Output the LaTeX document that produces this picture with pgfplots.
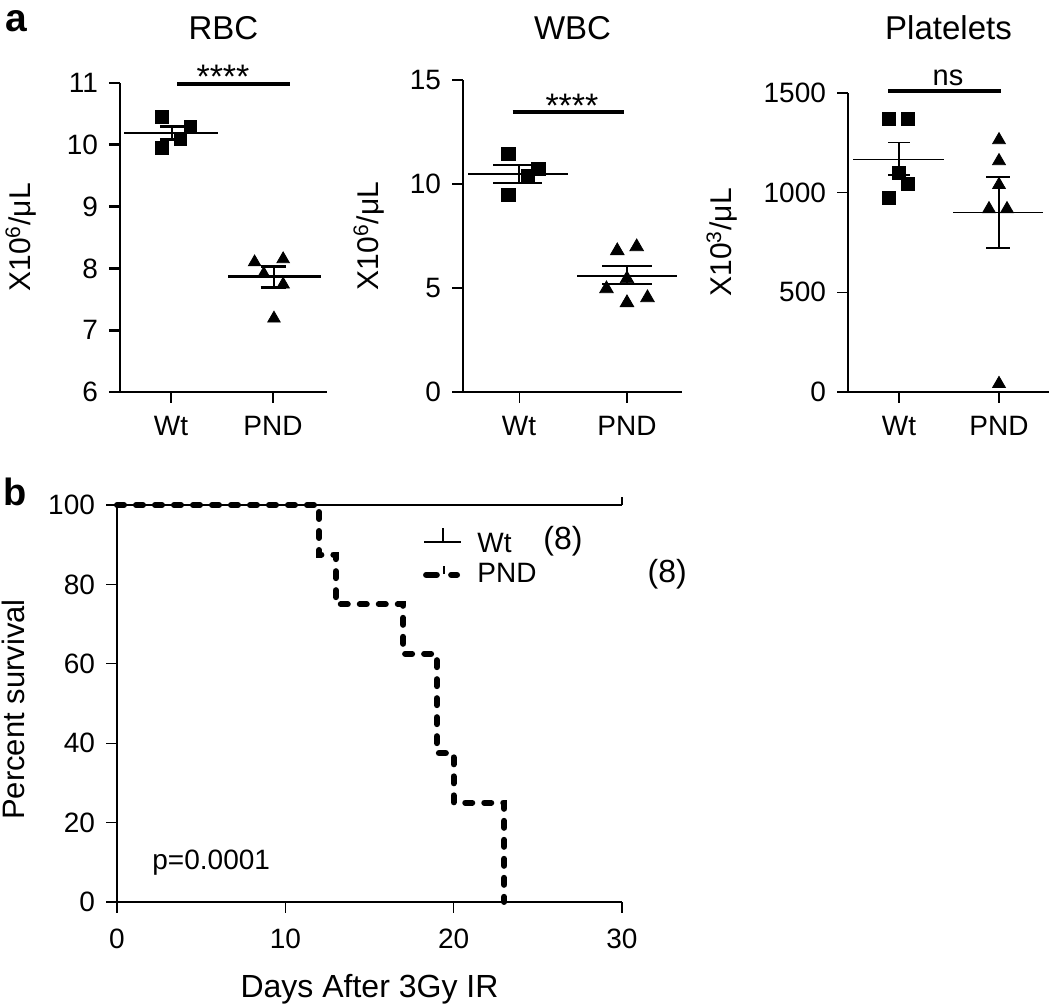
\documentclass[border=0pt]{standalone}
\usepackage{fontspec}
\setmainfont{Liberation Sans}
\usepackage{pgfplots}
\pgfplotsset{compat=1.18}
\newcommand{\fs}[1]{\fontsize{#1}{#1}\selectfont}
\pgfplotsset{
  panel/.style={
    scale only axis, anchor=south west, clip=false,
    axis lines=left, axis line style={-, line width=0.6pt},
    tick align=outside, major tick length=5.5pt,
    every tick/.style={black, line width=0.6pt},
    minor tick num=0,
    scaled ticks=false,
    /pgf/number format/assume math mode=true,
    /pgf/number format/1000 sep={},
    tick label style={font=\fs{14pt}},
    yticklabel style={xshift=-2pt},
  },
  wtpnd/.style={xtick={0,1}, xticklabels={Wt,PND}, xticklabel style={yshift=-3pt}},
  mean/.style={black, line width=0.65pt},
  sig/.style={black, line width=1.9pt},
}
\begin{document}
\begin{tikzpicture}
\useasboundingbox (0,0) rectangle (525pt,502pt);

% ---------------- RBC ----------------
\begin{axis}[panel, wtpnd, at={(60pt,306pt)}, width=103.5pt, height=154.5pt,
  xmin=-0.5, xmax=1.53, ymin=6, ymax=11, ytick={6,7,8,9,10,11},
  axis line style={line width=1.4pt}, every tick/.style={black, line width=1.4pt}]
\addplot[only marks, mark=square*, mark size=3.1pt, black] coordinates {
  (-0.09,10.45) (0.19,10.29) (0.09,10.09) (-0.09,9.95)};
\addplot[only marks, mark=triangle*, mark size=3.6pt, black] coordinates {
  (0.82,8.10) (1.10,8.15) (0.91,7.91) (1.10,7.74) (1.01,7.19)};
\addplot[mean, line width=1.3pt] coordinates {(-0.46,10.19) (0.46,10.19)};
\addplot[mean, line width=1.3pt] coordinates {(0.01,10.09) (0.01,10.30)};
\addplot[mean, line width=1.3pt] coordinates {(-0.11,10.30) (0.13,10.30)};
\addplot[mean, line width=1.3pt] coordinates {(-0.11,10.09) (0.13,10.09)};
\addplot[mean, line width=1.3pt] coordinates {(0.56,7.87) (1.47,7.87)};
\addplot[mean, line width=1.3pt] coordinates {(1.01,7.69) (1.01,8.03)};
\addplot[mean, line width=1.3pt] coordinates {(0.88,8.03) (1.13,8.03)};
\addplot[mean, line width=1.3pt] coordinates {(0.88,7.69) (1.13,7.69)};
\addplot[sig] coordinates {(0.06,10.98) (1.17,10.98)};
\node[anchor=base, font=\fs{17pt}, inner sep=0pt] at (axis cs:0.51,10.91) {****};
\node[anchor=base, font=\fs{16.5pt}, inner sep=0pt] at ([yshift=21.5pt]rel axis cs:0.5,1) {RBC};
\node[rotate=90, font=\fs{15pt}, inner sep=0pt] at ([xshift=-49.5pt]rel axis cs:0,0.5) {X10\textsuperscript{6}/μL};
\node[anchor=base west, font=\bfseries\fs{19.5pt}, inner sep=0pt] at (axis cs:-1.63,11.84) {a};
\end{axis}

% ---------------- WBC ----------------
\begin{axis}[panel, wtpnd, at={(231.5pt,306pt)}, width=109.5pt, height=156pt,
  xmin=-0.52, xmax=1.51, ymin=0, ymax=15, ytick={0,5,10,15}]
\addplot[only marks, mark=square*, mark size=3.4pt, black] coordinates {
  (-0.10,11.44) (0.18,10.72) (0.08,10.38) (-0.10,9.47)};
\addplot[only marks, mark=triangle*, mark size=3.9pt, black] coordinates {
  (0.91,6.79) (1.09,6.98) (1.00,5.44) (0.81,4.96) (1.00,4.29) (1.19,4.53)};
\addplot[mean] coordinates {(-0.47,10.48) (0.45,10.48)};
\addplot[mean] coordinates {(0,10.05) (0,10.91)};
\addplot[mean] coordinates {(-0.24,10.91) (0.21,10.91)};
\addplot[mean] coordinates {(-0.24,10.05) (0.21,10.05)};
\addplot[mean] coordinates {(0.54,5.58) (1.46,5.58)};
\addplot[mean] coordinates {(1,5.19) (1,6.06)};
\addplot[mean] coordinates {(0.77,6.06) (1.23,6.06)};
\addplot[mean] coordinates {(0.77,5.19) (1.23,5.19)};
\addplot[sig] coordinates {(-0.06,13.46) (0.97,13.46)};
\node[anchor=base, font=\fs{17pt}, inner sep=0pt] at (axis cs:0.49,13.2) {****};
\node[anchor=base, font=\fs{16.5pt}, inner sep=0pt] at ([yshift=20pt]rel axis cs:0.5,1) {WBC};
\node[rotate=90, font=\fs{15pt}, inner sep=0pt] at ([xshift=-47pt]rel axis cs:0,0.5) {X10\textsuperscript{6}/μL};
\end{axis}

% ---------------- Platelets ----------------
\begin{axis}[panel, wtpnd, at={(424pt,306pt)}, width=100.5pt, height=149.5pt,
  xmin=-0.51, xmax=1.5, ymin=0, ymax=1500, ytick={0,500,1000,1500}]
\addplot[only marks, mark=square*, mark size=3.2pt, black] coordinates {
  (-0.10,1368) (0.09,1368) (0,1098) (0.09,1043) (-0.10,972)};
\addplot[only marks, mark=triangle*, mark size=3.7pt, black] coordinates {
  (1,1264) (1,1159) (1,1039) (0.90,918) (1.08,918) (1,41)};
\addplot[mean] coordinates {(-0.46,1168) (0.45,1168)};
\addplot[mean] coordinates {(0,1088) (0,1253)};
\addplot[mean] coordinates {(-0.11,1253) (0.11,1253)};
\addplot[mean] coordinates {(-0.11,1088) (0.11,1088)};
\addplot[mean] coordinates {(0.54,902) (1.44,902)};
\addplot[mean] coordinates {(1,722) (1,1078)};
\addplot[mean] coordinates {(0.87,1078) (1.11,1078)};
\addplot[mean] coordinates {(0.87,722) (1.11,722)};
\addplot[sig] coordinates {(-0.11,1509) (1.02,1509)};
\node[anchor=base, font=\fs{14.5pt}, inner sep=0pt] at (axis cs:0.49,1539) {ns};
\node[anchor=base, font=\fs{16.5pt}, inner sep=0pt] at ([yshift=26.9pt]rel axis cs:0.5,1) {Platelets};
\node[rotate=90, font=\fs{15pt}, inner sep=0pt] at ([xshift=-63pt]rel axis cs:0,0.5) {X10\textsuperscript{3}/μL};
\end{axis}

% ---------------- Survival ----------------
\begin{axis}[panel, at={(58.5pt,51pt)}, width=252.5pt, height=198.5pt,
  xmin=0, xmax=30, ymin=0, ymax=100, xtick={0,10,20,30}, ytick={0,20,40,60,80,100},
  xticklabel style={yshift=-4.5pt}]
\addplot[black, line width=0.6pt] coordinates {(0,100) (30,100)};
\addplot[black, line width=0.6pt] coordinates {(30,100) (30,102)};
\addplot[black, line width=3pt, line cap=round, dash pattern=on 3.5pt off 6pt] coordinates {
  (0,100) (12,100) (12,87.5) (13,87.5) (13,75) (17,75) (17,62.5) (19,62.5)
  (19,37.5) (20,37.5) (20,25) (23,25) (23,0)};
% legend
\draw[black, line width=0.6pt] (axis cs:18.24,90.7) -- (axis cs:20.44,90.7);
\draw[black, line width=0.6pt] (axis cs:19.37,90.7) -- (axis cs:19.37,94.2);
\draw[black, line width=3pt, line cap=round] (axis cs:18.36,82.4) -- (axis cs:19.0,82.4);
\draw[black, line width=3pt, line cap=round] (axis cs:19.85,82.4) -- (axis cs:20.2,82.4);
\draw[black, line width=0.6pt] (axis cs:19.43,82.6) -- (axis cs:19.43,84.6);
\node[anchor=base west, font=\fs{14pt}, inner sep=0pt] at (axis cs:21.39,88.0) {Wt};
\node[anchor=base west, font=\fs{16pt}, inner sep=0pt] at (axis cs:25.31,88.7) {(8)};
\node[anchor=base west, font=\fs{14pt}, inner sep=0pt] at (axis cs:21.39,80.35) {PND};
\node[anchor=base west, font=\fs{16pt}, inner sep=0pt] at (axis cs:31.5,80.35) {(8)};
\node[anchor=base west, font=\fs{14pt}, inner sep=0pt] at (axis cs:2.08,8.3) {p=0.0001};
\node[rotate=90, font=\fs{15.5pt}, inner sep=0pt] at ([xshift=-52pt, yshift=-3pt]rel axis cs:0,0.5) {Percent survival};
\node[anchor=base, font=\fs{16pt}, inner sep=0pt] at ([yshift=-48pt]rel axis cs:0.5,0) {Days After 3Gy IR};
\node[anchor=base west, font=\bfseries\fs{19pt}, inner sep=0pt] at ([xshift=-57pt, yshift=-0.5pt]rel axis cs:0,1) {b};
\end{axis}
\end{tikzpicture}
\end{document}
